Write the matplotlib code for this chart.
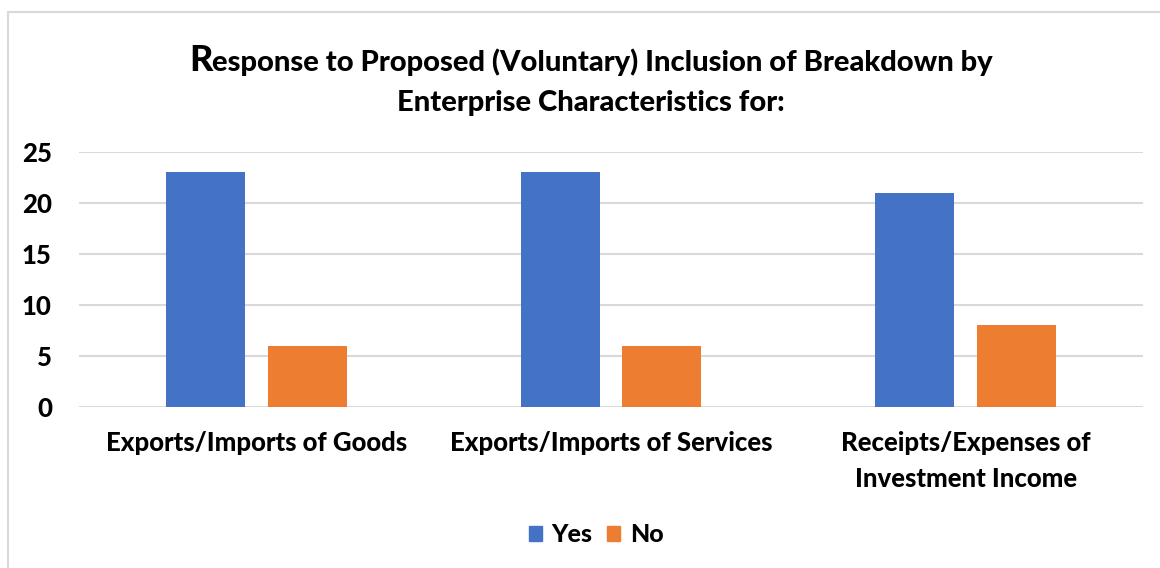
import matplotlib
matplotlib.use("Agg")
import matplotlib.pyplot as plt
from matplotlib.patches import Rectangle, Patch
import numpy as np

categories = ["Exports/Imports of Goods", "Exports/Imports of Services",
              "Receipts/Expenses of\nInvestment Income"]
yes_vals = [23, 23, 21]
no_vals = [6, 6, 8]
series_names = ["Yes", "No"]
yticks = [0, 5, 10, 15, 20, 25]
title_first = "R"
title_rest = "esponse to Proposed (Voluntary) Inclusion of Breakdown by"
title_line2 = "Enterprise Characteristics for:"

FONT = "Lato"
WT = "black"
W, H = 1160, 568
fig = plt.figure(figsize=(W / 100, H / 100), dpi=100)
fig.patch.set_facecolor("white")

# outer chart frame
fig.patches.append(Rectangle((8 / W, -0.1), 1.2, (H - 12) / H + 0.1,
                             transform=fig.transFigure, fill=False,
                             edgecolor="#d9d9d9", linewidth=1.5))

ax = fig.add_axes([79 / W, 1 - 407 / H, (1143 - 79) / W, (407 - 152) / H])
x = np.arange(len(categories))
bw = 0.223
blue = "#4472c4"
orange = "#ed7d31"
ax.bar(x - 0.143, yes_vals, bw, color=blue, zorder=3)
ax.bar(x + 0.143, no_vals, bw, color=orange, zorder=3)
ax.set_xlim(-0.5, 2.5)
ax.set_ylim(0, 25)
ax.set_yticks(yticks)
ax.set_yticklabels([str(v) for v in yticks], fontfamily=FONT,
                   fontweight=WT, fontsize=18.5)
ax.set_xticks(x)
ax.set_xticklabels(categories, fontfamily=FONT, fontweight=WT,
                   fontsize=18.5, linespacing=1.6)
ax.tick_params(axis="both", length=0)
ax.tick_params(axis="y", pad=19.5)
ax.tick_params(axis="x", pad=17.5)
ax.grid(axis="y", color="#d9d9d9", linewidth=1.5, zorder=0)
for s in ax.spines.values():
    s.set_visible(False)

# title with enlarged first letter
cx = 591 / W
renderer = fig.canvas.get_renderer()
t1 = fig.text(0, 0, title_first, fontfamily=FONT, fontweight=WT,
              fontsize=26)
t2 = fig.text(0, 0, title_rest, fontfamily=FONT, fontweight=WT,
              fontsize=21)
w1 = t1.get_window_extent(renderer).width / W
w2 = t2.get_window_extent(renderer).width / W
start = cx - (w1 + w2) / 2
ybase = 1 - 71 / H
t1.set_position((start, ybase))
t2.set_position((start + w1, ybase))
fig.text(cx, 1 - 111 / H, title_line2, fontfamily=FONT, fontweight=WT,
         fontsize=21, ha="center")

handles = [Patch(color=blue), Patch(color=orange)]
fig.legend(handles, series_names, loc="center",
           bbox_to_anchor=(596 / W, 1 - 535 / H),
           ncol=2, frameon=False, handlelength=0.52, handleheight=0.52,
           handletextpad=0.38, columnspacing=0.6,
           prop={"family": FONT, "weight": WT, "size": 18})

fig.savefig("out.png", dpi=100)
